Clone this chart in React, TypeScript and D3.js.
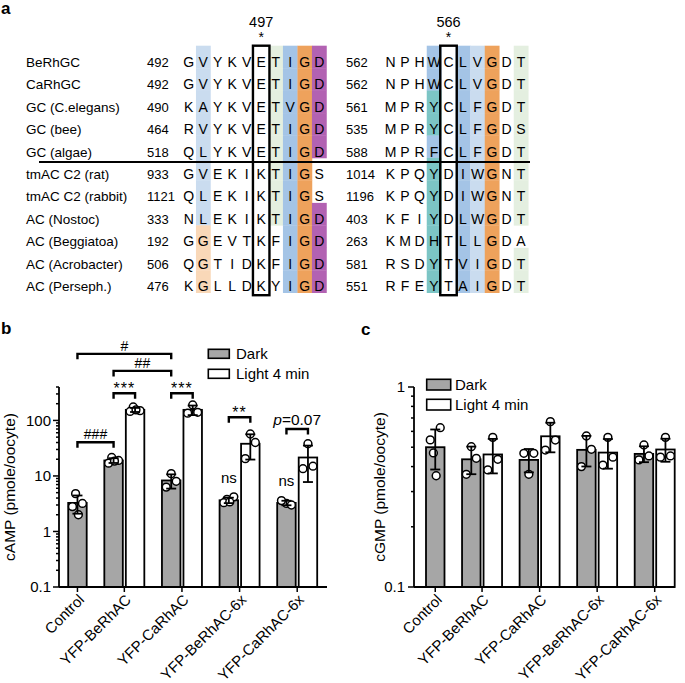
import React from 'react';
import * as d3 from 'd3';

const FONT = "'Liberation Sans', Arial, Helvetica, sans-serif";

// ---------- Panel a : alignment ----------
const seqNames = [
  'BeRhGC', 'CaRhGC', 'GC (C.elegans)', 'GC (bee)', 'GC (algae)',
  'tmAC C2 (rat)', 'tmAC C2 (rabbit)', 'AC (Nostoc)', 'AC (Beggiatoa)',
  'AC (Acrobacter)', 'AC (Perseph.)',
];
const seqStart1 = [492, 492, 490, 464, 518, 933, 1121, 333, 192, 506, 476];
const seqBlock1 = [
  'GVYKVETIGD', 'GVYKVETIGD', 'KAYKVETVGD', 'RVYKVETIGD', 'QLYKVETIGD',
  'GVEKIKTIGS', 'QLEKIKTIGS', 'NLEKIKTIGD', 'GGEVTKFIGD', 'QGTIDKFIGD', 'KGLLDKYIGD',
];
const seqStart2 = [562, 562, 561, 535, 588, 1014, 1196, 403, 263, 581, 551];
const seqBlock2 = [
  'NPHWCLVGDT', 'NPHWCLVGDT', 'MPRYCLFGDT', 'MPRYCLFGDS', 'MPRFCLFGDT',
  'KPQYDIWGNT', 'KPQYDIWGNT', 'KFIYDLWGDT', 'KMDHTLLGDA', 'RSDYTVIGDT', 'RFEYTAIGDT',
];
// residue conservation classes: b light blue, B blue, o orange, O light orange, p purple, g green, t teal
const shade1 = [
  '.b....gBop', '.b....gBop', '.b....gBop', '.b....gBop', '.b....gBop',
  '.b....gBo.', '.b....gBo.', '.b....gBop', '.O.....Bop', '.O.....Bop', '.O.....Bop',
];
const shade2 = [
  '...B.Bbo.g', '...B.Bbo.g', '...t.Bbo.g', '...t.Bbo.g', '...B.Bbo.g',
  '...t.Bbo.g', '...t.Bbo.g', '...t.Bbo.g', '...t.Bbo..', '...t.Bbo.g', '...t.Bbo.g',
];
const markedSites = ['497', '566'];
const markedCols = [5, 4];
const nGC = 5;

const shadeColors: Record<string, string> = {
  b: '#cadcef', B: '#a4c4e6', o: '#eea25c', O: '#f9d8b8', p: '#b262b2', g: '#e4efe0', t: '#7cc5c5',
};

// ---------- Panels b, c : cyclic nucleotides ----------
const categories = ['Control', 'YFP-BeRhAC', 'YFP-CaRhAC', 'YFP-BeRhAC-6x', 'YFP-CaRhAC-6x'];
const seriesNames = ['Dark', 'Light 4 min'];

const campDark = [3.27, 19, 8.3, 3.65, 3.27];
const campLight: (number | null)[] = [null, 155, 155, 38, 21.5];
const campDarkPts = [[4.8, 3.2, 2.8, 2.0], [21.5, 19, 17, 18.5], [11, 8, 6.3], [3.8, 4.2, 3.3, 3.4], [3.2, 3.0, 3.6]];
const campLightPts = [[], [175, 150, 145, 155], [190, 140, 135], [57, 40, 20.5], [38, 15, 13.5]];

const cgmpDark = [0.5, 0.435, 0.432, 0.485, 0.463];
const cgmpLight: (number | null)[] = [null, 0.46, 0.567, 0.47, 0.487];
const cgmpDarkPts = [[0.468, 0.626, 0.544, 0.36], [0.503, 0.44, 0.366], [0.366, 0.466, 0.466], [0.569, 0.488, 0.4], [0.513, 0.452, 0.432]];
const cgmpLightPts = [[], [0.56, 0.435, 0.385], [0.671, 0.543, 0.484], [0.56, 0.446, 0.407], [0.56, 0.452, 0.446]];

// significance annotations for panel b: [groupA, seriesA, groupB, seriesB, level(value), label]
const campComparisons: [number, number, number, number, number, string][] = [
  [0, 0, 2, 0, 1580, '#'],
  [1, 0, 2, 0, 780, '##'],
  [1, 0, 1, 1, 309, '***'],
  [2, 0, 2, 1, 309, '***'],
  [0, 0, 1, 0, 40.5, '###'],
  [3, 0, 3, 1, 114, '**'],
  [4, 0, 4, 1, 70, 'p=0.07'],
];
const campNs = [3, 4];

const BW = 18.5;
const HALF = 10.75;
const jitter3 = [0, 0.27, -0.27];
const jitter4 = [-0.1, 0.27, -0.27, 0.05];

function barX(g: number, series: number, hasLight: boolean) {
  if (series === 0) return hasLight ? g - HALF : g + HALF;
  return g + HALF;
}

function LogAxisY({ y, x, labelRight }: { y: d3.ScaleLogarithmic<number, number>; x: number; labelRight: number }) {
  const ticks = y.ticks();
  const [d0, d1] = y.domain();
  return (
    <g>
      <line x1={x} x2={x} y1={y(d0)} y2={y(d1)} stroke="#000" strokeWidth={1.8} />
      {ticks.map((t, i) => {
        const major = Math.abs(Math.log10(t) - Math.round(Math.log10(t))) < 1e-9;
        return (
          <g key={i}>
            <line x1={x - (major ? 6 : 3)} x2={x} y1={y(t)} y2={y(t)} stroke="#000" strokeWidth={1.5} />
            {major && (
              <text x={labelRight} y={y(t)} dy="0.36em" textAnchor="end" fontSize={15} fontFamily={FONT}>
                {d3.format('~g')(t)}
              </text>
            )}
          </g>
        );
      })}
    </g>
  );
}

function BarPanel({
  xg, y, dark, light, darkPts, lightPts, axisX, axisEnd, labelRight, yLabel, yLabelX,
}: any) {
  const base = y.domain()[0];
  const bars: any[] = [];
  const dots: any[] = [];
  const errs: any[] = [];
  categories.forEach((c, gi) => {
    const g = xg(c) as number;
    const hasLight = light[gi] != null;
    [[dark[gi], darkPts[gi]], [light[gi], lightPts[gi]]].forEach(([v, pts]: any, si) => {
      if (v == null) return;
      const cx = barX(g, si, hasLight);
      bars.push(
        <rect key={`b${gi}-${si}`} x={cx - BW / 2} y={y(v)} width={BW} height={y(base) - y(v)}
          fill={si === 0 ? '#a6a6a6' : '#fff'} stroke="#000" strokeWidth={1.8} />,
      );
      const pat = pts.length === 4 ? jitter4 : jitter3;
      pts.forEach((p: number, pi: number) => {
        dots.push(
          <circle key={`d${gi}-${si}-${pi}`} cx={cx + pat[pi] * BW} cy={y(p)} r={3.9}
            fill="#fff" stroke="#000" strokeWidth={1.5} />,
        );
      });
      const sd = d3.deviation(pts) as number;
      const lo = y(Math.max(v - sd, base));
      const hi = y(v + sd);
      errs.push(
        <g key={`e${gi}-${si}`} stroke="#000" strokeWidth={1.8}>
          <line x1={cx} x2={cx} y1={lo} y2={hi} />
          <line x1={cx - 5} x2={cx + 5} y1={lo} y2={lo} />
          <line x1={cx - 5} x2={cx + 5} y1={hi} y2={hi} />
        </g>,
      );
    });
  });
  const y0 = y(base);
  return (
    <g>
      {bars}
      {dots}
      {errs}
      <LogAxisY y={y} x={axisX} labelRight={labelRight} />
      <line x1={axisX} x2={axisEnd} y1={y0} y2={y0} stroke="#000" strokeWidth={1.8} />
      {categories.map((c, gi) => {
        const g = xg(c) as number;
        const tx = light[gi] != null ? g : g + HALF;
        return (
          <g key={c}>
            <line x1={tx} x2={tx} y1={y0} y2={y0 + 5} stroke="#000" strokeWidth={1.5} />
            <text transform={`translate(${tx + 4},${y0 + 10}) rotate(-45)`} textAnchor="end" dy="0.35em"
              fontSize={15} fontFamily={FONT}>{c}</text>
          </g>
        );
      })}
      <text transform={`translate(${yLabelX},487) rotate(-90)`} textAnchor="middle" fontSize={15.5} fontFamily={FONT}>
        {yLabel}
      </text>
    </g>
  );
}

function Legend({ x, y, w, h, gap, tx }: any) {
  return (
    <g fontFamily={FONT} fontSize={15}>
      {seriesNames.map((s, i) => (
        <g key={s}>
          <rect x={x} y={y + i * gap} width={w} height={h} fill={i === 0 ? '#a6a6a6' : '#fff'} stroke="#000" strokeWidth={1.6} />
          <text x={tx} y={y + i * gap + h / 2} dy="0.36em">{s}</text>
        </g>
      ))}
    </g>
  );
}

function Alignment() {
  const rows = d3.scaleBand<number>().domain(d3.range(seqNames.length)).range([45.7, 292.7]);
  const cols1 = d3.scaleBand<number>().domain(d3.range(10)).range([181.45, 326.45]);
  const cols2 = d3.scaleBand<number>().domain(d3.range(10)).range([383.25, 528.25]);
  const blocks = [
    { cols: cols1, seqs: seqBlock1, shade: shade1, starts: seqStart1, numX: 147 },
    { cols: cols2, seqs: seqBlock2, shade: shade2, starts: seqStart2, numX: 346 },
  ];
  const rh = rows.bandwidth();
  return (
    <g fontFamily={FONT}>
      {blocks.map((b, bi) => (
        <g key={bi}>
          {b.shade.map((s, ri) =>
            s.split('').map((ch, ci) =>
              ch === '.' ? null : (
                <rect key={`${ri}-${ci}`} x={b.cols(ci)} y={rows(ri)} width={b.cols.bandwidth() + 0.3} height={rh + 0.3}
                  fill={shadeColors[ch]} />
              ),
            ),
          )}
        </g>
      ))}
      {seqNames.map((n, ri) => (
        <text key={n} x={26} y={(rows(ri) as number) + 21} fontSize={13.5}>{n}</text>
      ))}
      {blocks.map((b, bi) => (
        <g key={`t${bi}`}>
          {b.starts.map((s, ri) => (
            <text key={ri} x={b.numX} y={(rows(ri) as number) + 21} fontSize={13}>{s}</text>
          ))}
          {b.seqs.map((s, ri) =>
            s.split('').map((ch, ci) => (
              <text key={`${ri}-${ci}`} x={(b.cols(ci) as number) + b.cols.bandwidth() / 2} y={(rows(ri) as number) + 21}
                fontSize={14} textAnchor="middle">{ch}</text>
            )),
          )}
          <rect x={(b.cols(markedCols[bi]) as number) - 1} y={45.7} width={b.cols.bandwidth() + 2} height={rows.range()[1] - 45.7 + 2.5}
            fill="none" stroke="#000" strokeWidth={2.4} />
          <text x={(b.cols(markedCols[bi]) as number) + b.cols.bandwidth() / 2} y={27} fontSize={14.5} textAnchor="middle">
            {markedSites[bi]}
          </text>
          <text x={(b.cols(markedCols[bi]) as number) + b.cols.bandwidth() / 2} y={42} fontSize={14} textAnchor="middle">*</text>
        </g>
      ))}
      <line x1={39} x2={530} y1={(rows(nGC) as number) + 4} y2={(rows(nGC) as number) + 4} stroke="#000" strokeWidth={2} />
    </g>
  );
}

export default function App() {
  const yB = d3.scaleLog().domain([0.1, 400]).range([587, 387]);
  const yC = d3.scaleLog().domain([0.1, 1]).range([587, 387]);
  const xgB = d3.scalePoint<string>().domain(categories).range([66.7, 297.2]);
  const xgC = d3.scalePoint<string>().domain(categories).range([424.5, 654.7]);

  return (
    <svg width={685} height={683} style={{ position: 'absolute', left: 0, top: 0, background: '#fff' }}>
      <rect width={685} height={683} fill="#fff" />
      <g fontFamily={FONT} fontWeight="bold" fontSize={17}>
        <text x={1} y={14}>a</text>
        <text x={1} y={334}>b</text>
        <text x={361} y={335}>c</text>
      </g>
      <Alignment />

      <BarPanel xg={xgB} y={yB} dark={campDark} light={campLight} darkPts={campDarkPts} lightPts={campLightPts}
        axisX={59} axisEnd={327} labelRight={51} yLabel="cAMP (pmole/oocyte)" yLabelX={15} />
      <g fontFamily={FONT}>
        {campComparisons.map(([ga, sa, gb, sb, lvl, lab], i) => {
          const xa = barX(xgB(categories[ga]) as number, sa, campLight[ga] != null);
          const xb = barX(xgB(categories[gb]) as number, sb, campLight[gb] != null);
          const yy = yB(lvl);
          const isStar = lab.startsWith('*');
          const isP = lab.startsWith('p');
          return (
            <g key={i}>
              <path d={`M${xa},${yy + 5.5}V${yy}H${xb}V${yy + 5.5}`} fill="none" stroke="#000" strokeWidth={2.4} />
              <text x={(xa + xb) / 2} y={isStar ? yy + 1 : yy - (isP ? 4.5 : 3)} textAnchor="middle"
                fontSize={isStar ? 16 : isP ? 15.5 : 14} letterSpacing={isStar ? 1 : 0}>
                {isP ? (<><tspan fontStyle="italic">p</tspan>{lab.slice(1)}</>) : lab}
              </text>
            </g>
          );
        })}
        {campNs.map((gi) => {
          const x = barX(xgB(categories[gi]) as number, 0, true);
          return (
            <text key={gi} x={x} y={yB(campDark[gi]) - 17} textAnchor="middle" fontSize={15}>ns</text>
          );
        })}
      </g>
      <Legend x={208.3} y={349.3} w={21} h={9} gap={20} tx={236} />

      <BarPanel xg={xgC} y={yC} dark={cgmpDark} light={cgmpLight} darkPts={cgmpDarkPts} lightPts={cgmpLightPts}
        axisX={414} axisEnd={675} labelRight={405} yLabel="cGMP (pmole/oocyte)" yLabelX={385} />
      <Legend x={426.7} y={379.3} w={24} h={10.7} gap={20} tx={455} />
    </svg>
  );
}
